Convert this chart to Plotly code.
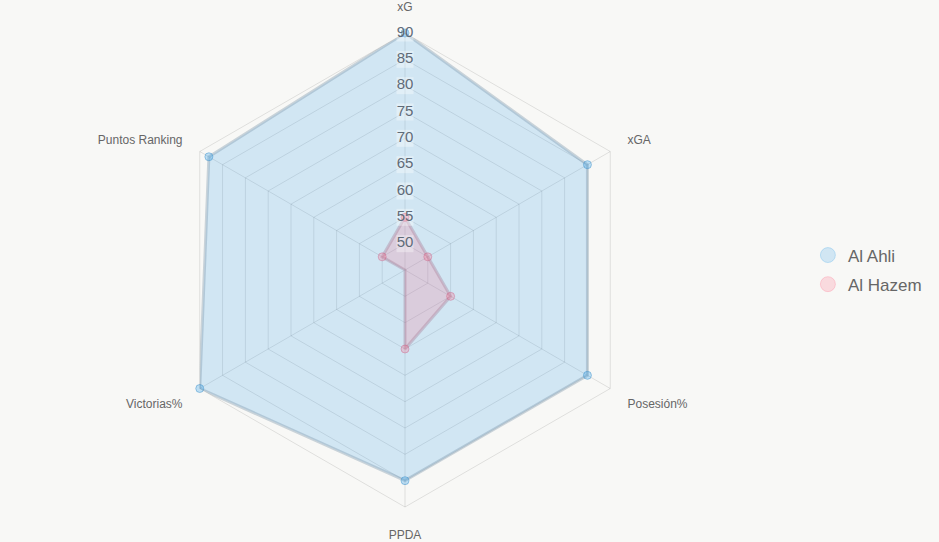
import plotly.graph_objects as go

categories = ["xG", "xGA", "Posesión%", "PPDA", "Victorias%", "Puntos Ranking"]
al_ahli = [90, 85, 85, 85, 90, 88]
al_hazem = [55, 50, 55, 60, 45, 50]
tick_vals = [50, 55, 60, 65, 70, 75, 80, 85, 90]
tick_text = [str(v) for v in tick_vals]

BG = "#f8f8f6"

fig = go.Figure()

def closed(lst):
    return lst + lst[:1]

fig.add_trace(go.Scatterpolar(
    r=closed(al_ahli), theta=closed(categories), name="Al Ahli",
    mode="lines+markers", fill="toself",
    fillcolor="rgba(54,162,235,0.2)",
    line=dict(color="rgba(130,155,175,0.4)", width=3),
    marker=dict(size=8, color="rgba(54,162,235,0.3)",
                line=dict(color="rgba(54,140,200,0.45)", width=1)),
    showlegend=False, hoverinfo="skip"))

fig.add_trace(go.Scatterpolar(
    r=closed(al_hazem), theta=closed(categories), name="Al Hazem",
    mode="lines+markers", fill="toself",
    fillcolor="rgba(255,99,132,0.2)",
    line=dict(color="rgba(170,130,155,0.4)", width=3),
    marker=dict(size=8, color="rgba(255,99,132,0.25)",
                line=dict(color="rgba(200,90,130,0.4)", width=1)),
    showlegend=False, hoverinfo="skip"))

# radial tick labels drawn on the xG spoke
fig.add_trace(go.Scatterpolar(
    r=tick_vals, theta=[categories[0]] * len(tick_vals),
    mode="markers+text", text=tick_text, textposition="middle center",
    textfont=dict(family="Liberation Sans, Arial", size=15, color="#5f6b78"),
    marker=dict(symbol="square", size=17, color="rgba(255,255,255,0.35)"),
    showlegend=False, hoverinfo="skip"))

# legend entries
fig.add_trace(go.Scatterpolar(
    r=[None], theta=[None], name="Al Ahli", mode="markers", legendgroup="a",
    marker=dict(size=15, color="rgba(54,162,235,0.2)",
                line=dict(color="rgba(54,162,235,0.25)", width=1))))
fig.add_trace(go.Scatterpolar(
    r=[None], theta=[None], name="Al Hazem", mode="markers", legendgroup="b",
    marker=dict(size=15, color="rgba(255,99,132,0.2)",
                line=dict(color="rgba(255,99,132,0.25)", width=1))))

fig.update_layout(
    width=939, height=542,
    paper_bgcolor=BG, plot_bgcolor=BG,
    margin=dict(l=168, r=293, t=31, b=33),
    font=dict(family="Liberation Sans, Arial", color="#666"),
    polar=dict(
        bgcolor=BG,
        gridshape="linear",
        radialaxis=dict(range=[45, 90], tickvals=tick_vals, showticklabels=False,
                        showline=False, ticks="", gridcolor="rgba(0,0,0,0.1)",
                        gridwidth=1, angle=90),
        angularaxis=dict(categoryarray=categories, categoryorder="array",
                         direction="clockwise", rotation=90,
                         showline=True, linecolor="rgba(0,0,0,0.1)", linewidth=1,
                         gridcolor="rgba(0,0,0,0.1)", gridwidth=1,
                         ticks="outside", ticklen=17, tickcolor="rgba(0,0,0,0)",
                         tickfont=dict(size=12, color="#666")),
    ),
    legend=dict(x=1.35, y=0.5, yanchor="middle", xanchor="left",
                font=dict(size=17, color="#666"), tracegroupgap=4,
                bgcolor="rgba(0,0,0,0)"),
)

fig.write_html("out.html")
